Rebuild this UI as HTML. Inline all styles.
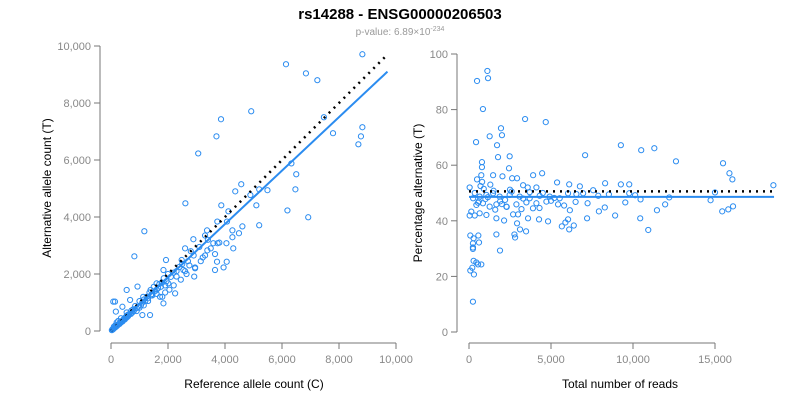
<!DOCTYPE html>
<html><head><meta charset="utf-8">
<style>
body{margin:0;background:#fff;width:800px;height:400px;overflow:hidden;font-family:"Liberation Sans",Arial,sans-serif}
svg text{font-family:"Liberation Sans",Arial,sans-serif}
</style></head>
<body>
<svg id="chart" width="800" height="400" viewBox="0 0 800 400" xmlns="http://www.w3.org/2000/svg">
<text x="400" y="19" text-anchor="middle" font-size="15" font-weight="bold" fill="#000">rs14288 - ENSG00000206503</text>
<text x="400" y="35" text-anchor="middle" font-size="10" fill="#999">p-value: 6.89×10<tspan dy="-4" font-size="7">-234</tspan></text>
<g id="left"></g>
<g id="right"></g>
<text x="254" y="388" text-anchor="middle" font-size="12" fill="#000">Reference allele count (C)</text>
<text transform="translate(51,188) rotate(-90)" text-anchor="middle" font-size="12" fill="#000">Alternative allele count (T)</text>
<text x="620" y="388" text-anchor="middle" font-size="12" fill="#000">Total number of reads</text>
<text transform="translate(422,193) rotate(-90)" text-anchor="middle" font-size="12" fill="#000">Percentage alternative (T)</text>
</svg>
<script>
const refCounts=[
8820,6140,6840,7240,4920,3860,7470,3700,7790,8820,8770,8680,
3060,6330,6500,6470,6190,6920,4570,4360,4890,5200,5490,5100,
5200,4610,2610,1170,820,3870,4120,4070,3730,3370,4260,4260,
4490,4290,2890,3590,3740,4050,3380,3220,3720,4060,3650,3950,
2920,2950,2600,2480,2300,2540,1930,1840,2010,2250,1720,1840,
1390,1600,1130,1370,1100,930,550,80,140,170,400,670,
3400,3300,3100,2900,2800,2700,2500,2400,2300,2200,
2100,2000,1950,1900,1850,1800,1750,1700,1650,1600,
1550,1500,1450,1400,1350,1300,1250,1200,1150,1100,
1050,1000,950,900,850,800,780,750,720,700,
650,620,600,580,560,540,520,500,480,460,
440,420,400,380,360,340,320,300,280,260,
240,220,200,180,160,140,120,100,80,60,
2200,2050,1900,1800,1600,1450,1300,1150,1000,900,
2600,2750,2950,3150,3300,3500,3650,3800,2450,2650,
200,300,150,100,250,350,450,550,50,30];
const altCounts=[
9710,9360,9040,8800,7710,7430,7500,6830,6940,7150,6830,6550,
6230,5880,5500,4970,4230,3990,5150,4900,4770,4970,4940,4410,
3710,3670,4480,3500,2620,4410,4200,3840,3840,3530,3530,3290,
3430,2900,3220,3080,3080,3080,2830,2580,2430,2430,2140,2230,
1910,2230,2900,2490,1910,2140,2490,2140,1670,1320,1200,970,
1440,1670,1200,560,560,1560,1440,1030,1030,680,850,1090,
3200,3350,2950,2650,2800,2450,2350,2250,2100,2050,
1900,2000,1750,1600,1850,1700,1550,1650,1500,1450,
1400,1550,1300,1250,1350,1150,1200,1050,1100,1000,
900,1050,850,800,880,700,760,650,720,600,
600,580,520,560,480,520,450,470,400,430,
400,380,330,350,320,290,300,260,250,230,
210,200,170,160,140,120,110,90,70,50,
1600,1450,1350,1200,1300,1250,1050,900,820,700,
2100,2300,2200,2450,2650,2900,2700,3100,1800,2000,
300,250,200,150,350,450,420,650,60,30];
const totalReads=[
1120,1160,490,850,3420,4680,1950,2010,1260,430,1710,9260,10500,11300,
1770,2480,7080,12620,15490,790,790,2440,15880,4460,3910,16060,750,1470,
2040,2630,2930,490,5370,6110,8300,9260,9770,18560,6760,3300,40,3580,
4110,7570,15000,6960,8530,9770,10130,250,650,1060,1470,1870,2480,3090,
3700,4310,4920,5530,6040,6550,7880,10460,12210,14730,9530,11960,16100,15810,
15440,11460,7920,8280,7230,6150,5430,4720,4110,3500,2890,2280,1670,1260,
850,450,140,40,350,650,1060,1670,2140,2690,2990,3600,4270,4820,
5880,6040,5660,6390,7200,8910,10440,10930,6110,3110,3480,2930,1670,2770,
2810,80,570,280,610,240,240,240,1890,280,450,550,750,200,
80,300,240,
600,900,1300,1600,2200,2600,3300,3900,4500,5000,5800,700,1000,1500,2000,2500,3200,
350,550,800,1150,1900,2300,3700,4300,5200,6500];
const pctAlt=[
93.9,91.3,90.3,80.2,76.6,75.5,73.3,70.8,70.4,68.3,67.2,67.2,65.4,66.1,
62.9,63.2,63.6,61.4,60.7,61.1,59.3,58.9,57.1,57.1,56.4,54.9,56.4,56.4,
56.0,55.3,55.3,54.9,53.8,53.1,53.5,53.1,53.1,52.8,52.4,52.8,52.0,52.0,
52.0,51.0,50.2,49.9,49.5,49.9,49.2,48.1,48.7,49.3,49.9,48.7,49.3,48.7,
48.1,49.0,48.7,48.1,49.9,49.6,49.0,47.7,48.4,47.4,46.6,45.9,45.2,44.1,
43.4,43.8,43.4,44.8,46.3,43.8,45.9,46.9,46.3,46.6,45.9,45.1,45.9,45.1,
46.3,45.7,43.3,41.9,41.9,42.7,42.1,40.9,40.1,42.3,42.3,40.9,40.5,39.8,
39.4,40.5,38.0,38.3,40.9,41.9,40.9,36.7,36.9,36.9,36.2,39.1,35.1,35.1,
34.0,34.7,34.7,33.7,32.2,31.9,30.4,29.9,29.3,25.6,25.0,24.3,24.3,23.1,
22.1,20.7,10.9,
47.0,51.5,53.0,44.0,47.5,50.5,48.0,44.5,50.0,47.2,45.5,52.5,47.8,50.8,46.0,51.2,44.2,
50.0,46.5,54.0,48.5,47.0,45.0,50.3,44.6,48.2,46.8];
const leftXTicks=[0,2000,4000,6000,8000,10000];
const leftYTicks=[0,2000,4000,6000,8000,10000];
const rightXTicks=[0,5000,10000,15000];
const rightYTicks=[0,20,40,60,80,100];
const trendEnd=[9700,9100];
const identityEnd=9700;
const rightTrendPct=48.6, rightRefPct=50.6, rightMaxTotal=18600;

const NS="http://www.w3.org/2000/svg";
function mk(parent,tag,attrs){const e=document.createElementNS(NS,tag);for(const k in attrs)e.setAttribute(k,attrs[k]);parent.appendChild(e);return e;}
const fmt=v=>v.toLocaleString('en-US');
const BLUE="#2b8cf0";

function axes(g,xs,ys,xTicks,yTicks,xAxisX,yAxisY,x0,x1,y0,y1){
  let a=mk(g,'line',{x1:xAxisX,y1:y0,x2:xAxisX,y2:y1,stroke:'#777','stroke-width':1});
  
  
  yTicks.forEach(t=>{const y=ys(t);
    const tk=mk(g,'line',{x1:xAxisX-6,y1:y,x2:xAxisX,y2:y,stroke:'#777'});
    
    
    const tx=mk(g,'text',{x:xAxisX-9,y:y+4,'text-anchor':'end','font-size':11,fill:'#888'});tx.textContent=fmt(t);
    
    });
  a=mk(g,'line',{x1:x0,y1:yAxisY,x2:x1,y2:yAxisY,stroke:'#777'});
  
  
  xTicks.forEach(t=>{const x=xs(t);
    const tk=mk(g,'line',{x1:x,y1:yAxisY,x2:x,y2:yAxisY+6,stroke:'#777'});
    
    
    const tx=mk(g,'text',{x:x,y:yAxisY+20,'text-anchor':'middle','font-size':11,fill:'#888'});tx.textContent=fmt(t);
    
    });
}

// left
const lx=v=>111+v/10000*285, ly=v=>331-v/10000*285;
const L=document.getElementById('left');
axes(L,lx,ly,leftXTicks,leftYTicks,100,343,lx(0),lx(10000),ly(0),ly(10000));
refCounts.forEach((r,i)=>{const c=mk(L,'circle',{cx:lx(r),cy:ly(altCounts[i]),r:2.6,fill:'none',stroke:BLUE,'stroke-width':1});
  
  });
let ln=mk(L,'line',{x1:lx(0),y1:ly(0),x2:lx(identityEnd),y2:ly(identityEnd),stroke:'#000','stroke-width':2.5,'stroke-dasharray':'2 5'});


ln=mk(L,'line',{x1:lx(0),y1:ly(0),x2:lx(trendEnd[0]),y2:ly(trendEnd[1]),stroke:BLUE,'stroke-width':2});



// right
const rx=v=>469+v/15000*246, ry=v=>332-v/100*278;
const R=document.getElementById('right');
axes(R,rx,ry,rightXTicks,rightYTicks,457,343,rx(0),rx(15000),ry(0),ry(100));
totalReads.forEach((t,i)=>{
  const c=mk(R,'circle',{cx:rx(t),cy:ry(pctAlt[i]),r:2.6,fill:'none',stroke:BLUE,'stroke-width':1});
  
  });
ln=mk(R,'line',{x1:rx(0),y1:ry(rightRefPct),x2:rx(rightMaxTotal),y2:ry(rightRefPct),stroke:'#000','stroke-width':2.5,'stroke-dasharray':'2 5'});


ln=mk(R,'line',{x1:rx(0),y1:ry(rightTrendPct),x2:rx(rightMaxTotal),y2:ry(rightTrendPct),stroke:BLUE,'stroke-width':2});


</script>
</body></html>
